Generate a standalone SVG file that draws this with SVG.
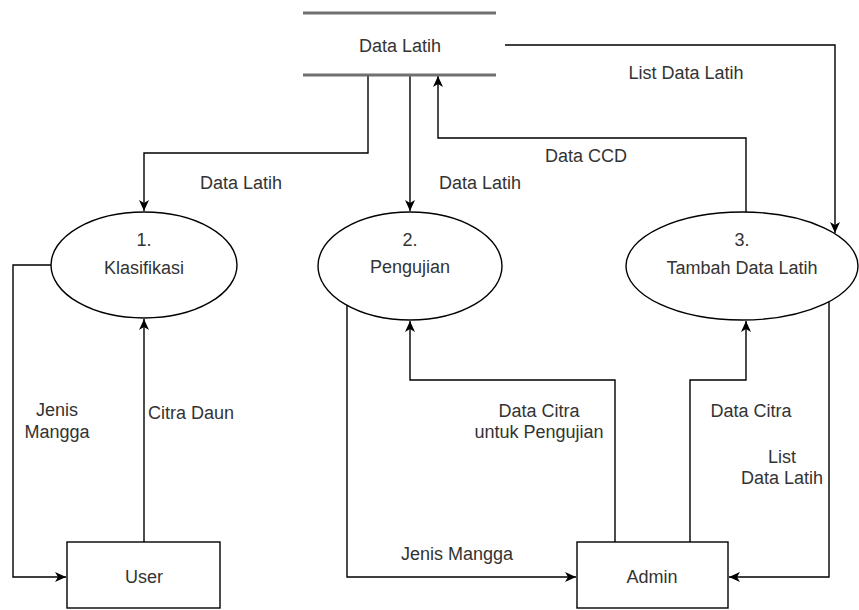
<svg xmlns="http://www.w3.org/2000/svg" width="859" height="610" viewBox="0 0 859 610">
<style>
text{font-family:"Liberation Sans",Arial,sans-serif;font-size:18px;fill:#333;text-anchor:middle;dominant-baseline:central}
.shape{fill:#fff;stroke:#000;stroke-width:1.4}
.conn{fill:none;stroke:#000;stroke-width:1.4}
.store{stroke:#707070;stroke-width:3}
</style>
<defs>
<marker id="arr" markerUnits="userSpaceOnUse" markerWidth="12" markerHeight="12" viewBox="0 0 12 12" refX="11" refY="6" orient="auto">
<path d="M0,1 L11,6 L0,11 L3,6 z" fill="#000"/>
</marker>
</defs>
<g id="connectors">
<path class="conn" d="M368,75 V153 H144 V211" marker-end="url(#arr)"/>
<path class="conn" d="M410,75 V211" marker-end="url(#arr)"/>
<path class="conn" d="M746,212 V138 H438 V76" marker-end="url(#arr)"/>
<path class="conn" d="M505,45 H835 V233" marker-end="url(#arr)"/>
<path class="conn" d="M51,265 H13 V577 H66" marker-end="url(#arr)"/>
<path class="conn" d="M144,542 V319" marker-end="url(#arr)"/>
<path class="conn" d="M347,305 V577 H576" marker-end="url(#arr)"/>
<path class="conn" d="M615,542 V380 H410 V321" marker-end="url(#arr)"/>
<path class="conn" d="M690,542 V380 H746 V321" marker-end="url(#arr)"/>
<path class="conn" d="M829,302 V577 H729" marker-end="url(#arr)"/>
</g>
<g id="store">
<line class="store" x1="303" y1="13" x2="496" y2="13"/>
<line class="store" x1="303" y1="75" x2="496" y2="75"/>
<text x="400" y="46">Data Latih</text>
</g>
<g id="p1">
<ellipse class="shape" cx="144" cy="265" rx="93" ry="53"/>
<text x="144" y="240">1.</text>
<text x="144" y="268">Klasifikasi</text>
</g>
<g id="p2">
<ellipse class="shape" cx="410" cy="266" rx="92" ry="54"/>
<text x="410" y="240">2.</text>
<text x="410" y="267">Pengujian</text>
</g>
<g id="p3">
<ellipse class="shape" cx="742" cy="266" rx="116" ry="54"/>
<text x="742" y="240">3.</text>
<text x="742" y="268">Tambah Data Latih</text>
</g>
<g id="user">
<rect class="shape" x="67" y="542" width="153" height="66"/>
<text x="144" y="577">User</text>
</g>
<g id="admin">
<rect class="shape" x="577" y="542" width="151" height="66"/>
<text x="652" y="577">Admin</text>
</g>
<g id="labels">
<text x="241" y="183">Data Latih</text>
<text x="480" y="183">Data Latih</text>
<text x="586" y="156">Data CCD</text>
<text x="686" y="73">List Data Latih</text>
<text x="57" y="410">Jenis</text>
<text x="57" y="432">Mangga</text>
<text x="191" y="413">Citra Daun</text>
<text x="539" y="411">Data Citra</text>
<text x="539" y="432">untuk Pengujian</text>
<text x="751" y="411">Data Citra</text>
<text x="782" y="457">List</text>
<text x="782" y="478">Data Latih</text>
<text x="457" y="554">Jenis Mangga</text>
</g>
</svg>
